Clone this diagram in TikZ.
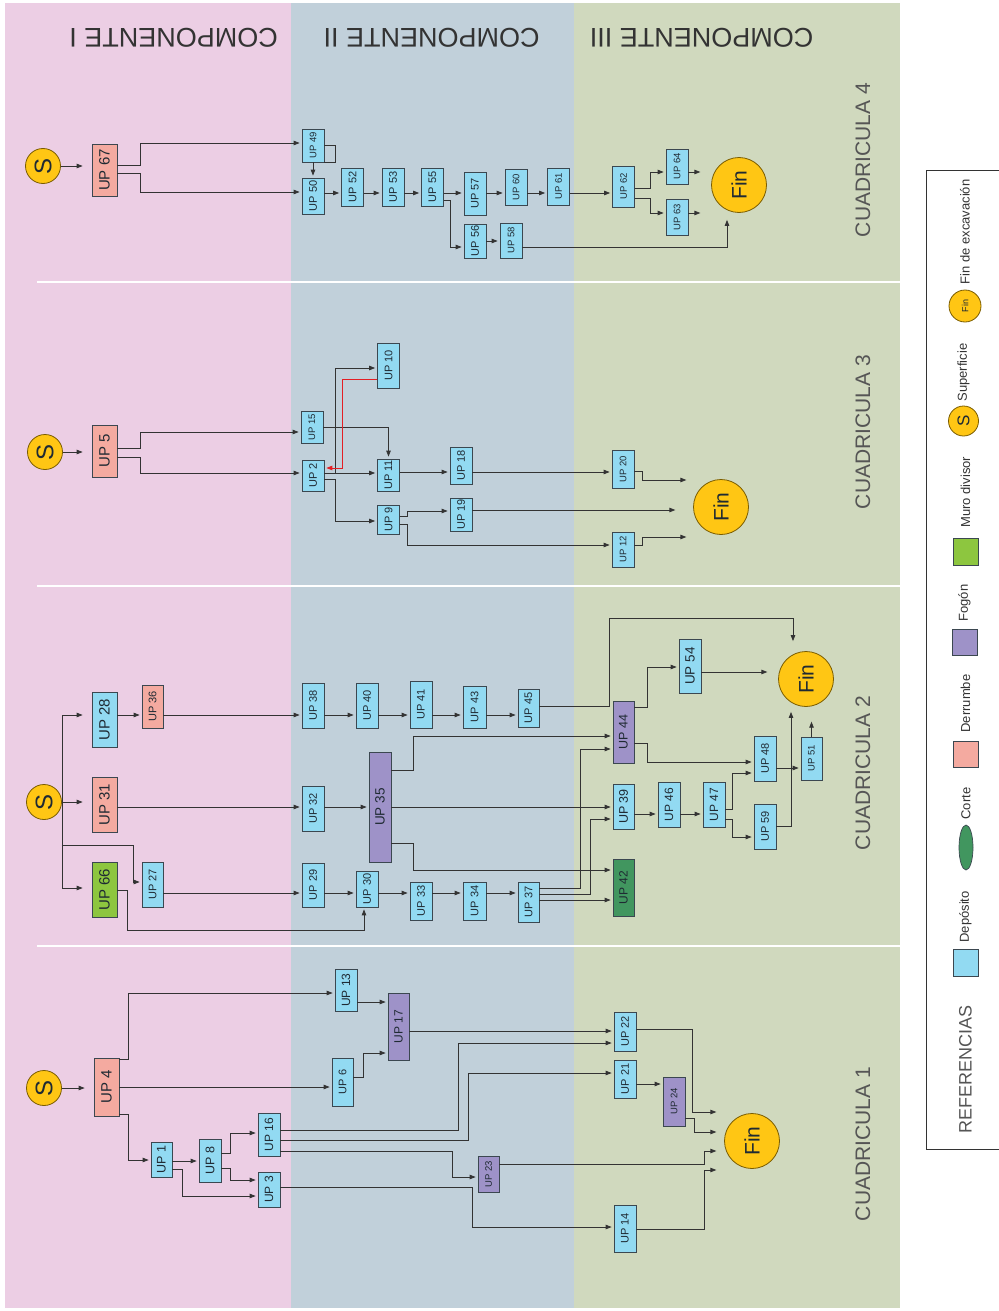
\documentclass[tikz,border=0pt]{standalone}
\usepackage{fontspec}
\setmainfont{Liberation Sans}
\usepackage{graphicx}
\usepackage{xcolor}
\usepackage{tikz}
\usetikzlibrary{shapes.geometric, positioning, arrows.meta}

\definecolor{bandI}{HTML}{ECCEE4}
\definecolor{bandII}{HTML}{C1D0DA}
\definecolor{bandIII}{HTML}{D0D9BE}
\definecolor{depC}{HTML}{92DAF2}
\definecolor{derC}{HTML}{F4AAA0}
\definecolor{fogC}{HTML}{9E92C8}
\definecolor{muroC}{HTML}{8DC63F}
\definecolor{corC}{HTML}{41965F}
\definecolor{yelC}{HTML}{FFC614}
\definecolor{circC}{HTML}{7A5C00}
\definecolor{lineC}{HTML}{333333}
\definecolor{boxC}{HTML}{3B4750}
\definecolor{txtC}{HTML}{1F2A33}
\definecolor{headC}{HTML}{333333}
\definecolor{cuadC}{HTML}{555555}
\definecolor{redC}{HTML}{E31E24}

\newcommand{\vl}[1]{\rotatebox{90}{#1}}

\begin{document}
\begin{tikzpicture}[
    x=1pt, y=-1pt,
    >={Triangle[length=6pt,width=4.5pt]},
    line/.style={draw=lineC, line width=0.8pt},
    arr/.style={line, ->, shorten >=2pt},
    up/.style={draw=boxC, line width=0.7pt, inner sep=0pt, minimum width=22pt,
        text=txtC, font=\fontsize{11}{11}\selectfont},
    dep/.style={up, fill=depC},
    der/.style={up, fill=derC},
    fog/.style={up, fill=fogC},
    muro/.style={up, fill=muroC},
    cor/.style={up, fill=corC},
    big/.style={font=\fontsize{15}{15}\selectfont, minimum width=25pt},
    mid/.style={font=\fontsize{13.5}{13.5}\selectfont},
    small/.style={font=\fontsize{9.5}{9.5}\selectfont},
    sup/.style={circle, draw=circC, fill=yelC, line width=0.8pt, inner sep=0pt,
        minimum size=35pt, text=txtC, font=\fontsize{24}{24}\selectfont},
    fin/.style={sup, minimum size=55pt, font=\fontsize{21}{21}\selectfont},
    head/.style={text=headC, font=\fontsize{27}{27}\selectfont},
    cuad/.style={rotate=90, text=cuadC, font=\fontsize{21}{21}\selectfont},
    leg/.style={rotate=90, inner sep=0pt, text=lineC, font=\fontsize{13}{13}\selectfont}
]
\useasboundingbox (0,0) rectangle (998,1311);

% --- Bandas de componentes ---
\fill[bandI] (5,3) rectangle (291,1308);
\fill[bandII] (291,3) rectangle (574,1308);
\fill[bandIII] (574,3) rectangle (900,1308);
\foreach \yy in {282,586,946}
    \draw[white, line width=2.5pt] (37,\yy) -- (900,\yy);

\node[head, rotate=180] (compI) at (173.5,38) {COMPONENTE I};
\node[head, rotate=180] (compII) at (431.5,38) {COMPONENTE II};
\node[head, rotate=180] (compIII) at (701.5,38) {COMPONENTE III};

\node[cuad] (cuad4) at (863,160) {CUADRICULA 4};
\node[cuad] (cuad3) at (863,432) {CUADRICULA 3};
\node[cuad] (cuad2) at (863,773) {CUADRICULA 2};
\node[cuad] (cuad1) at (863,1144) {CUADRICULA 1};

% --- Cuadricula 4 ---
\node[sup] (s4) at (43,166) {\vl{S}};
\node[der, big, minimum height=52pt] (up67) at (104.5,170) {\vl{UP 67}};
\node[dep, small, minimum height=33pt] (up49) at (313,145.5) {\vl{UP 49}};
\node[dep, minimum height=36pt] (up50) at (313,196) {\vl{UP 50}};
\node[dep, minimum height=38pt] (up52) at (352.5,187) {\vl{UP 52}};
\node[dep, minimum height=38pt] (up53) at (393,187) {\vl{UP 53}};
\node[dep, minimum height=38pt] (up55) at (432.5,187) {\vl{UP 55}};
\node[dep, minimum height=43pt] (up57) at (475,193.5) {\vl{UP 57}};
\node[dep, minimum height=34pt] (up56) at (475,241) {\vl{UP 56}};
\node[dep, small, minimum height=35pt] (up58) at (511,240.5) {\vl{UP 58}};
\node[dep, small, minimum height=36pt] (up60) at (516,187) {\vl{UP 60}};
\node[dep, small, minimum height=37pt] (up61) at (558.5,186.5) {\vl{UP 61}};
\node[dep, small, minimum height=41pt] (up62) at (623.5,186.5) {\vl{UP 62}};
\node[dep, small, minimum height=35pt] (up64) at (677,166.5) {\vl{UP 64}};
\node[dep, small, minimum height=36pt] (up63) at (677,217) {\vl{UP 63}};
\node[fin] (fin4) at (739,185) {\vl{Fin}};

\draw[arr, shorten >=9pt] (s4) -- (up67.west |- s4);
\draw[arr] (up67.east |- 0,165) -- ++(23,0) |- (up49.west |- 0,143);
\draw[arr] (up67.east |- 0,173) -- ++(23,0) |- (up50.west |- 0,192);
\draw[line] (up49.east |- 0,145) -- ++(11,0) |- (up49.south east);
\draw[arr] (up49) -- (up50);
\draw[arr] (up50.east |- 0,193) -- (up52.west |- 0,193);
\draw[arr] (up52.east |- 0,193) -- (up53.west |- 0,193);
\draw[arr] (up53.east |- 0,193) -- (up55.west |- 0,193);
\draw[arr] (up55.east |- 0,193) -- (up57.west |- 0,193);
\draw[arr] (up57.east |- 0,193) -- (up60.west |- 0,193);
\draw[arr] (up60.east |- 0,193) -- (up61.west |- 0,193);
\draw[arr] (up61.east |- 0,193) -- (up62.west |- 0,193);
\draw[arr] (up55.east |- 0,200) -- ++(7,0) |- (up56.west |- 0,247);
\draw[arr] (up56.east |- 0,241) -- (up58.west |- 0,241);
\coordinate (f4bot) at ([xshift=-12pt,yshift=-5pt]fin4.south);
\draw[arr] (up58.east |- 0,247) -| (f4bot);
\draw[arr] (up62.east |- 0,188) -- ++(16,0) |- (up64.west |- 0,172);
\draw[arr] (up62.east |- 0,198) -- ++(16,0) |- (up63.west |- 0,213);
\draw[arr] (up64.east |- 0,172) -- ++(14,0);
\draw[arr] (up63.east |- 0,213) -- ++(14,0);

% --- Cuadricula 3 ---
\node[sup] (s3) at (45,452) {\vl{S}};
\node[der, big, minimum height=52pt] (up5) at (104.5,451) {\vl{UP 5}};
\node[dep, small, minimum height=32pt] (up15) at (312,427) {\vl{UP 15}};
\node[dep, minimum height=31pt] (up2) at (313,475.5) {\vl{UP 2}};
\node[dep, minimum height=45pt] (up10) at (388.5,365.5) {\vl{UP 10}};
\node[dep, minimum height=32pt] (up11) at (388.5,475) {\vl{UP 11}};
\node[dep, minimum height=37pt] (up18) at (461,465.5) {\vl{UP 18}};
\node[dep, minimum height=29pt] (up9) at (388.5,519.5) {\vl{UP 9}};
\node[dep, minimum height=33pt] (up19) at (461,514.5) {\vl{UP 19}};
\node[dep, small, minimum height=38pt] (up20) at (623,469) {\vl{UP 20}};
\node[dep, small, minimum height=35pt] (up12) at (623,549.5) {\vl{UP 12}};
\node[fin] (fin3) at (721,507) {\vl{Fin}};

\draw[arr, shorten >=9pt] (s3) -- (up5.west |- s3);
\draw[arr] (up5.east |- 0,448) -- ++(23,0) |- (up15.west |- 0,432);
\draw[arr] (up5.east |- 0,457) -- ++(23,0) |- (up2.west |- 0,473);
\draw[arr] (up15.east |- 0,427) -| (up11);
\draw[arr] (up2.east |- 0,473) -- ++(11,0) |- (up10.west |- 0,368);
\draw[arr, draw=redC, -{Triangle[length=6pt,width=4.5pt,fill=redC]}]
    (up10.west |- 0,379) -- ++(-35,0) |- (up2.east |- 0,468);
\draw[arr] (up2.east |- 0,473) -- (up11.west |- 0,473);
\draw[arr] (up2.east |- 0,479) -- ++(11,0) |- (up9.west |- 0,521);
\draw[arr] (up11.east |- 0,472) -- (up18.west |- 0,472);
\draw[arr] (up18.east |- 0,472) -- (up20.west |- 0,472);
\draw[arr] (up9.east |- 0,516) -- ++(8,0) |- (up19.west |- 0,511);
\draw[arr] (up9.east |- 0,524) -- ++(8,0) |- (up12.west |- 0,545);
\draw[arr] (up19.east |- 0,510) -- ++(205,0);
\draw[arr] (up20.east |- 0,471) -- ++(8,0) |- ++(46,9);
\draw[arr] (up12.east |- 0,545) -- ++(8,0) |- ++(46,-8);

% --- Cuadricula 2 ---
\node[sup] (s2) at (44,802) {\vl{S}};
\node[dep, big, minimum height=55pt] (up28) at (104.5,719.5) {\vl{UP 28}};
\node[der, minimum height=43pt, minimum width=21pt] (up36) at (152.5,706.5) {\vl{UP 36}};
\node[der, big, minimum height=55pt] (up31) at (104.5,804.5) {\vl{UP 31}};
\node[muro, big, minimum height=55pt] (up66) at (104.5,889.5) {\vl{UP 66}};
\node[dep, minimum height=45pt, minimum width=21pt] (up27) at (152.5,884.5) {\vl{UP 27}};
\node[dep, minimum height=45pt] (up38) at (313,705.5) {\vl{UP 38}};
\node[dep, minimum height=45pt] (up40) at (367,705.5) {\vl{UP 40}};
\node[dep, minimum height=47pt] (up41) at (421,704.5) {\vl{UP 41}};
\node[dep, minimum height=42pt, minimum width=23pt] (up43) at (474.5,707) {\vl{UP 43}};
\node[dep, minimum height=38pt, minimum width=21pt] (up45) at (528.5,708) {\vl{UP 45}};
\node[dep, minimum height=45pt] (up32) at (313,808.5) {\vl{UP 32}};
\node[fog, mid, minimum height=110pt] (up35) at (380,807) {\vl{UP 35}};
\node[dep, minimum height=44pt] (up29) at (313,885) {\vl{UP 29}};
\node[dep, minimum height=36pt] (up30) at (367,889) {\vl{UP 30}};
\node[dep, minimum height=38pt] (up33) at (421,901) {\vl{UP 33}};
\node[dep, minimum height=38pt, minimum width=23pt] (up34) at (474.5,901) {\vl{UP 34}};
\node[dep, minimum height=40pt, minimum width=21pt] (up37) at (528.5,902) {\vl{UP 37}};
\node[fog, font=\fontsize{12.5}{12.5}\selectfont, minimum height=62pt, minimum width=21pt] (up44) at (623.5,732) {\vl{UP 44}};
\node[dep, font=\fontsize{12.5}{12.5}\selectfont, minimum height=45pt, minimum width=21pt] (up39) at (623.5,806.5) {\vl{UP 39}};
\node[cor, font=\fontsize{12}{12}\selectfont, minimum height=57pt, minimum width=21pt] (up42) at (623.5,887.5) {\vl{UP 42}};
\node[dep, mid, minimum height=54pt] (up54) at (690,666) {\vl{UP 54}};
\node[dep, font=\fontsize{12}{12}\selectfont, minimum height=45pt] (up46) at (669,804.5) {\vl{UP 46}};
\node[dep, font=\fontsize{12}{12}\selectfont, minimum height=45pt] (up47) at (714,804.5) {\vl{UP 47}};
\node[dep, minimum height=45pt] (up48) at (765,758.5) {\vl{UP 48}};
\node[dep, minimum height=45pt] (up59) at (765,826.5) {\vl{UP 59}};
\node[dep, small, minimum height=43pt, minimum width=21pt] (up51) at (811.5,758.5) {\vl{UP 51}};
\node[fin] (fin2) at (806,679) {\vl{Fin}};

\draw[arr, shorten >=9pt] (s2.east) |- (up28.west |- 0,715);
\draw[arr, shorten >=9pt] (s2) -- (up31.west |- s2);
\draw[arr, shorten >=9pt] (s2.east) |- (up66.west |- 0,888);
\draw[arr] (s2.east |- 0,845) -- ++(71,0) |- (up27.west |- 0,882);
\draw[arr] (up28.east |- 0,715) -- (up36.west |- 0,715);
\draw[arr] (up36.east |- 0,715) -- (up38.west |- 0,715);
\draw[arr] (up38.east |- 0,715) -- (up40.west |- 0,715);
\draw[arr] (up40.east |- 0,715) -- (up41.west |- 0,715);
\draw[arr] (up41.east |- 0,715) -- (up43.west |- 0,715);
\draw[arr] (up43.east |- 0,715) -- (up45.west |- 0,715);
\coordinate (f2top) at ([xshift=-13pt,yshift=8pt]fin2.north);
\draw[arr] (up45.east |- 0,706) -- ++(70,0) -- ++(0,-88) -| (f2top);
\draw[arr] (up31.east |- 0,807) -- (up32.west |- 0,807);
\draw[arr] (up32.east |- 0,807) -- (up35.west |- 0,807);
\draw[arr] (up35.east |- 0,770) -- ++(22,0) |- (up44.west |- 0,736);
\draw[arr] (up35.east |- 0,807) -- (up39.west |- 0,807);
\draw[arr] (up35.east |- 0,843) -- ++(22,0) |- (up42.west |- 0,870);
\draw[arr] (up27.east |- 0,893) -- (up29.west |- 0,893);
\draw[arr] (up29.east |- 0,893) -- (up30.west |- 0,893);
\draw[arr] (up30.east |- 0,893) -- (up33.west |- 0,893);
\draw[arr] (up33.east |- 0,893) -- (up34.west |- 0,893);
\draw[arr] (up34.east |- 0,893) -- (up37.west |- 0,893);
\draw[arr] (up66.east |- 0,890) -- ++(10,0) -- ++(0,40) -| ([xshift=-3pt]up30.south);
\draw[arr] (up37.east |- 0,888) -- ++(41,0) |- (up44.west |- 0,749);
\draw[arr] (up37.east |- 0,894) -- ++(51,0) |- (up39.west |- 0,819);
\draw[arr] (up37.east |- 0,900) -- (up42.west |- 0,900);
\draw[arr] (up44.east |- 0,707) -- ++(13,0) |- (up54.west |- 0,667);
\draw[arr] (up54.east |- 0,672) -- ++(68,0);
\draw[arr] (up44.east |- 0,743) -- ++(13,0) |- (up48.west |- 0,762);
\draw[arr] (up39.east |- 0,814) -- (up46.west |- 0,814);
\draw[arr] (up46.east |- 0,814) -- (up47.west |- 0,814);
\draw[arr] (up47.east |- 0,809) -- ++(7,0) |- (up48.west |- 0,773);
\draw[arr] (up47.east |- 0,819) -- ++(7,0) |- (up59.west |- 0,837);
\draw[arr] (up48.east |- 0,768) -- (up51.west |- 0,768);
\coordinate (f2bot) at ([xshift=-15pt,yshift=-3pt]fin2.south);
\draw[arr] (up59.east |- 0,826) -| (f2bot);
\draw[arr] (up51.north) -- ++(0,-17);

% --- Cuadricula 1 ---
\node[sup] (s1) at (44,1088) {\vl{S}};
\node[der, big, minimum height=58pt] (up4) at (106.5,1087) {\vl{UP 4}};
\node[dep, font=\fontsize{12}{12}\selectfont, minimum height=42pt] (up13) at (346,990) {\vl{UP 13}};
\node[dep, minimum height=48pt, minimum width=21pt] (up6) at (342.5,1082) {\vl{UP 6}};
\node[fog, font=\fontsize{12}{12}\selectfont, minimum height=67pt, minimum width=21pt] (up17) at (398.5,1026.5) {\vl{UP 17}};
\node[dep, font=\fontsize{12.5}{12.5}\selectfont, minimum height=35pt, minimum width=21pt] (up1) at (161.5,1159.5) {\vl{UP 1}};
\node[dep, font=\fontsize{12.5}{12.5}\selectfont, minimum height=43pt] (up8) at (210,1160.5) {\vl{UP 8}};
\node[dep, font=\fontsize{12}{12}\selectfont, minimum height=43pt] (up16) at (269,1134.5) {\vl{UP 16}};
\node[dep, font=\fontsize{12}{12}\selectfont, minimum height=35pt] (up3) at (269,1189.5) {\vl{UP 3}};
\node[fog, small, minimum height=36pt, minimum width=21pt] (up23) at (488.5,1174) {\vl{UP 23}};
\node[dep, minimum height=39pt] (up22) at (625,1031.5) {\vl{UP 22}};
\node[dep, minimum height=38pt] (up21) at (625,1079) {\vl{UP 21}};
\node[fog, small, minimum height=49pt] (up24) at (674,1101.5) {\vl{UP 24}};
\node[dep, minimum height=47pt] (up14) at (625,1228.5) {\vl{UP 14}};
\node[fin] (fin1) at (752,1141) {\vl{Fin}};

\draw[arr, shorten >=9pt] (s1) -- (up4.west |- s1);
\draw[arr] (up4.east |- 0,1059) -- ++(9,0) |- (up13.west |- 0,993);
\draw[arr] (up4.east |- 0,1087) -- (up6.west |- 0,1087);
\draw[arr] (up4.east |- 0,1114) -- ++(9,0) |- (up1.west |- 0,1160);
\draw[arr] (up13.east |- 0,1002) -- (up17.west |- 0,1002);
\draw[arr] (up6.east |- 0,1077) -- ++(10,0) |- (up17.west |- 0,1053);
\draw[arr] (up17.east |- 0,1031) -- (up22.west |- 0,1031);
\draw[arr] (up1.east |- 0,1161) -- (up8.west |- 0,1161);
\draw[arr] (up1.east |- 0,1169) -- ++(10,0) |- (up3.west |- 0,1196);
\draw[arr] (up8.east |- 0,1153) -- ++(9,0) |- (up16.west |- 0,1133);
\draw[arr] (up8.east |- 0,1168) -- ++(9,0) |- (up3.west |- 0,1180);
\draw[arr] (up16.east |- 0,1130) -- ++(178,0) |- (up22.west |- 0,1043);
\draw[arr] (up16.east |- 0,1140) -- ++(188,0) |- (up21.west |- 0,1073);
\draw[arr] (up16.east |- 0,1151) -- ++(172,0) |- (up23.west |- 0,1177);
\draw[arr] (up3.east |- 0,1187) -- ++(192,0) |- (up14.west |- 0,1227);
\draw[arr] (up21.east |- 0,1084) -- (up24.west |- 0,1084);
\draw[arr] (up22.east |- 0,1029) -- ++(56,0) |- ++(26,83);
\draw[arr] (up24.east |- 0,1118) -- ++(9,0) |- ++(24,14);
\draw[arr] (up23.east |- 0,1164) -- ++(205,0) |- ++(14,-13);
\draw[arr] (up14.east |- 0,1229) -- ++(68,0) |- ++(14,-59);

% --- Referencias ---
\draw[line width=0.9pt, draw=lineC] (1010,170) -| (926,1149) -- (1010,1149);
\node[rotate=90, text=cuadC, font=\fontsize{18}{18}\selectfont] (ref) at (965.5,1069) {REFERENCIAS};
\node[dep, minimum width=25pt, minimum height=27pt] (ldep) at (965.5,962.5) {};
\node[leg, above=6pt of ldep, anchor=west] (tdep) {Depósito};
\node[ellipse, draw=boxC, fill=corC, line width=0.7pt, inner sep=0pt,
    minimum width=14pt, minimum height=45pt] (lcor) at (966,847.5) {};
\node[leg, above=5pt of lcor, anchor=west] (tcor) {Corte};
\node[der, minimum width=25pt, minimum height=26pt] (lder) at (965.5,754) {};
\node[leg, above=8pt of lder, anchor=west] (tder) {Derrumbe};
\node[fog, minimum width=25pt, minimum height=26pt] (lfog) at (964.5,642) {};
\node[leg, above=7pt of lfog, anchor=west] (tfog) {Fogón};
\node[muro, minimum width=25pt, minimum height=27pt] (lmuro) at (965.5,551.5) {};
\node[leg, above=10pt of lmuro, anchor=west] (tmuro) {Muro divisor};
\node[sup, minimum size=30pt, font=\fontsize{17}{17}\selectfont] (lsup) at (963.5,421) {\vl{S}};
\node[leg, above=4pt of lsup, anchor=west] (tsup) {Superficie};
\node[sup, minimum size=32pt, font=\fontsize{9}{9}\selectfont] (lfin) at (965,306) {\vl{Fin}};
\node[leg, above=5pt of lfin, anchor=west] (tfin) {Fin de excavación};

\end{tikzpicture}
\end{document}
